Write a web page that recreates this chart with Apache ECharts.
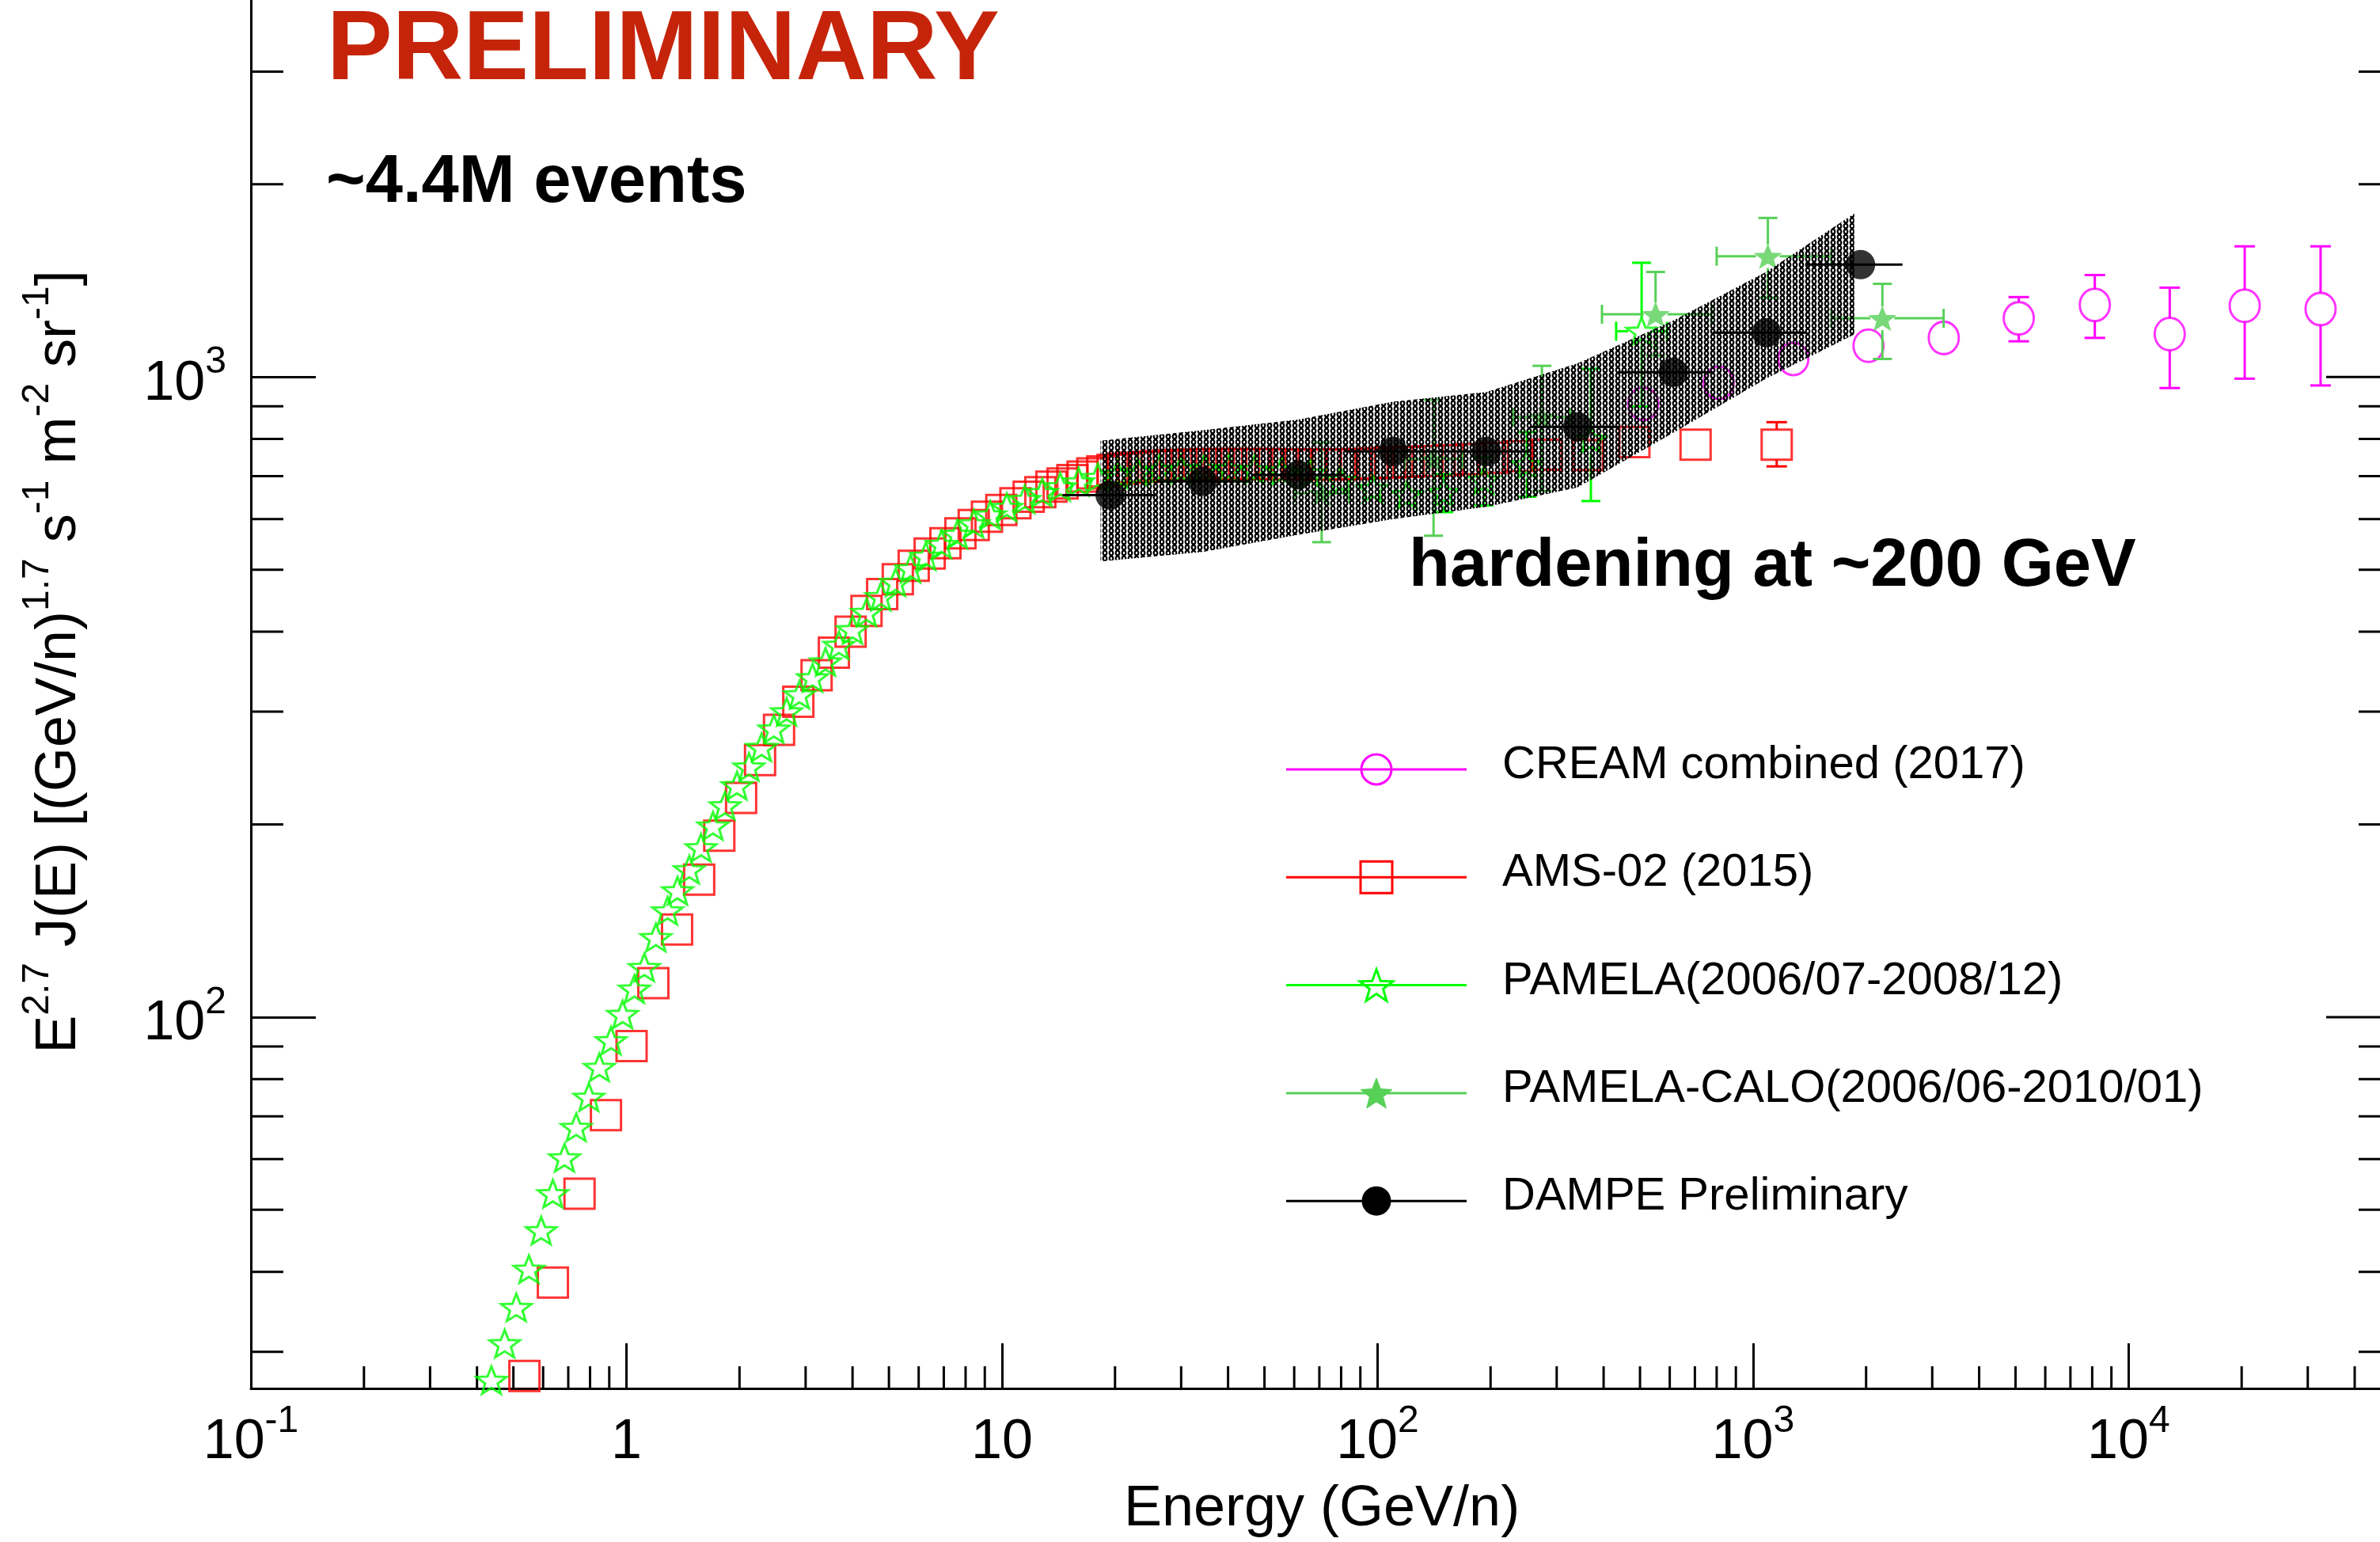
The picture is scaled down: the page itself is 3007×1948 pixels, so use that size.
<!DOCTYPE html>
<html>
<head>
<meta charset="utf-8">
<script src="https://cdn.jsdelivr.net/npm/echarts@6/dist/echarts.min.js"></script>
<style>
html,body{margin:0;padding:0;background:#fff;overflow:hidden}
/* the plot frame extends a little past the top and right edges of the page */
#chart{position:absolute;left:0;top:-89px;width:3024px;height:2037px}
</style>
</head>
<body>
<div id="chart"></div>
<script>
// ---- Proton spectrum, E^2.7 J(E) vs kinetic energy per nucleon (GeV/n) ----

// CREAM combined (2017)
const creamE   = [510, 810, 1280, 2030, 3220, 5100, 8130, 12870, 20380, 32450];
const creamV   = [908, 979, 1067, 1119, 1151, 1235, 1296, 1167, 1292, 1277];
const creamUp  = [25, 28, 32, 40, 45, 98, 147, 212, 308, 323];
const creamDn  = [25, 28, 32, 40, 45, 98, 145, 206, 298, 307];

// AMS-02 (2015)
const amsE = [0.535, 0.637, 0.750, 0.882, 1.032, 1.179, 1.364, 1.562, 1.767, 2.020,
  2.269, 2.549, 2.869, 3.209, 3.568, 3.953, 4.358, 4.797, 5.28, 5.82,
  6.42, 7.07, 7.75, 8.41, 9.12, 9.96, 10.86, 11.78, 12.65, 13.54,
  14.5, 15.4, 16.4, 17.4, 18.5, 19.7, 21.0, 22.4, 24.0, 25.8,
  27.8, 30.0, 32.4, 35.0, 37.8, 40.8, 44.1, 47.8, 51.8, 56.3,
  61.2, 66.7, 72.8, 79.6, 87.5, 97, 108, 121, 136, 154,
  176, 203, 237, 282, 363, 483, 703, 1156];
const amsV = [27.5, 38.5, 53.0, 70.3, 90.1, 113, 137, 164, 192, 220,
  252, 281, 311, 342, 371, 400, 431, 458, 483, 507,
  530, 550, 570, 587, 605, 620, 635, 650, 661, 674,
  682, 690, 699, 707, 712, 716, 719, 722, 724, 726,
  728, 729, 730, 731, 731, 731, 731, 731, 731, 730,
  730, 730, 730, 730, 731, 733, 735, 737, 739, 741,
  744, 748, 752, 756, 755, 791, 784, 784];
const amsErrUp = { 1156: 66 };
const amsErrDn = { 1156: 59 };

// PAMELA (2006/07-2008/12)
const pamelaE = [0.437, 0.474, 0.509, 0.550, 0.593, 0.637, 0.684, 0.735, 0.794, 0.847,
  0.910, 0.977, 1.050, 1.116, 1.198, 1.287, 1.368, 1.47, 1.58, 1.70,
  1.83, 1.97, 2.12, 2.29, 2.47, 2.67, 2.89, 3.13, 3.39, 3.68,
  4.00, 4.36, 4.76, 5.21, 5.71, 6.27, 6.90, 7.61, 8.41, 9.31,
  10.3, 11.5, 12.8, 14.3, 16.0, 18.0, 20.3, 23.0, 26.2, 30.0,
  34.6, 40.2, 47.0, 55.5, 66.0, 79.5, 97, 120, 150, 192,
  250, 370, 505];
const pamelaV = [27.1, 30.9, 35.2, 40.4, 46.4, 53.0, 60.3, 67.3, 75.0, 83.5,
  91.9, 101, 110.7, 119.6, 133.2, 146.6, 157.6, 170, 184, 199,
  214, 230, 246, 264, 282, 300, 319, 339, 359, 381,
  403, 429, 454, 478, 502, 525, 548, 568, 590, 609,
  626, 644, 660, 674, 686, 697, 705, 711, 716, 718,
  720, 718, 716, 713, 708, 690, 670, 655, 660, 690,
  730, 800, 1179];
const pamelaErrUp = [0,0,0,0,0,0,0,0,0,0, 0,0,0,0,0,0,0,0,0,0,
  0,0,0,0,0,0,0,0,0,0, 0,0,0,0,0,0,0,0,0,0,
  0,0,0,0,0,0,0,0,0,0, 0,0,0,0,0,0,0,30,45,60,
  90, 230, 329];
const pamelaErrDn = [0,0,0,0,0,0,0,0,0,0, 0,0,0,0,0,0,0,0,0,0,
  0,0,0,0,0,0,0,0,0,0, 0,0,0,0,0,0,0,0,0,0,
  0,0,0,0,0,0,0,0,0,0, 0,0,0,0,0,0,0,30,45,60,
  80, 160, 280];
const pamelaXlo = { 505: 432 };
const pamelaXhi = { 505: 590 };

// PAMELA-CALO (2006/06-2010/01)
const caloE   = [71, 141, 274, 550, 1095, 2210];
const caloV   = [658, 744, 865, 1253, 1544, 1235];
const caloLo  = [552, 565, 664, 1080, 1330, 1067];
const caloHi  = [790, 921, 1041, 1459, 1772, 1398];
const caloXlo = [60, 118, 230, 396, 800, 1616];
const caloXhi = [84, 168, 326, 775, 1616, 3217];

// DAMPE Preliminary: points, bin edges, systematic band
const dampeE   = [19.4, 34.2, 61.6, 110, 195, 341, 613, 1086, 1933];
const dampeV   = [654, 687, 703, 765, 765, 836, 1017, 1173, 1498];
const dampeXlo = [14.5, 25.8, 46.0, 82, 146, 255, 440, 780, 1390];
const dampeXhi = [25.9, 46.0, 82, 146, 255, 440, 780, 1390, 2500];
const bandE    = [18.3, 34.2, 61.6, 110, 195, 341, 613, 1086, 1860];
const bandHi   = [795, 826, 858, 915, 947, 1050, 1225, 1460, 1800];
const bandLo   = [515, 533, 567, 600, 627, 672, 818, 995, 1165];

// Axes
const X_MIN = 0.1, X_MAX = 5e4, Y_MIN = 26.3, Y_MAX = 5000;
const xMinorTicks = [0.2,0.3,0.4,0.5,0.6,0.7,0.8,0.9, 2,3,4,5,6,7,8,9, 20,30,40,50,60,70,80,90,
  200,300,400,500,600,700,800,900, 2000,3000,4000,5000,6000,7000,8000,9000, 20000,30000,40000];
const yMinorTicks = [30,40,50,60,70,80,90, 200,300,400,500,600,700,800,900, 2000,3000,4000];
const yMajorTicks = [100, 1000];

// ---- colours / fonts ----
const MAGENTA = '#ff00ff', RED = '#ff0000', GREEN = '#00ff00', CALO = '#57d057', BLACK = '#000000';
const FONT = '"Liberation Sans", Arial, Helvetica, sans-serif';
const LW = 3;
const OY = 89;   // chart canvas starts 89px above the page top

// five-pointed star outline (ROOT-style star marker)
function starPoints(cx, cy, R, r) {
  const pts = [];
  for (let k = 0; k < 10; k++) {
    const a = -Math.PI / 2 + k * Math.PI / 5;
    const rad = (k % 2) ? r : R;
    pts.push([cx + rad * Math.cos(a), cy + rad * Math.sin(a)]);
  }
  return pts;
}
const starPath = 'path://M' + starPoints(50, 50, 50, 21).map(p => p[0].toFixed(2) + ' ' + p[1].toFixed(2)).join(' L') + ' Z';

// hatch pattern for the systematic band
function hatchPattern() {
  const c = document.createElement('canvas');
  c.width = 8; c.height = 7;
  const g = c.getContext('2d');
  g.strokeStyle = '#000';
  g.lineWidth = 2.2;
  g.beginPath();
  g.ellipse(4, 3.5, 2.3, 2.8, 0, 0, Math.PI * 2);
  g.stroke();
  return c;
}

// error-bar renderer: [x, y, xlo, xhi, ylo, yhi]
function errRender(o) {
  return function (params, api) {
    const x = api.value(0), y = api.value(1);
    const c = api.coord([x, y]);
    const pu = api.coord([x, api.value(5)])[1];
    const pd = api.coord([x, api.value(4)])[1];
    const pl = api.coord([api.value(2), y])[0];
    const pr = api.coord([api.value(3), y])[0];
    const st = { stroke: o.color, lineWidth: o.width || LW };
    const kids = [];
    const seg = (x1, y1, x2, y2) => kids.push({ type: 'line', shape: { x1, y1, x2, y2 }, style: st });
    const gap = o.gap, cap = o.cap;
    if (c[1] - pu > gap + 1) { seg(c[0], c[1] - gap, c[0], pu); if (cap) seg(c[0] - cap, pu, c[0] + cap, pu); }
    if (pd - c[1] > gap + 1) { seg(c[0], c[1] + gap, c[0], pd); if (cap) seg(c[0] - cap, pd, c[0] + cap, pd); }
    if (c[0] - pl > gap + 1) { seg(pl, c[1], c[0] - gap, c[1]); if (cap) seg(pl, c[1] - cap, pl, c[1] + cap); }
    if (pr - c[0] > gap + 1) { seg(c[0] + gap, c[1], pr, c[1]); if (cap) seg(pr, c[1] - cap, pr, c[1] + cap); }
    return { type: 'group', children: kids };
  };
}

// ---- build series data ----
const creamErr = creamE.map((e, i) => [e, creamV[i], e, e, creamV[i] - creamDn[i], creamV[i] + creamUp[i]]);
const amsErr = amsE.map((e, i) => [e, amsV[i], e, e, amsV[i] - (amsErrDn[e] || 0), amsV[i] + (amsErrUp[e] || 0)]);
const pamErr = pamelaE.map((e, i) => [e, pamelaV[i], pamelaXlo[e] || e, pamelaXhi[e] || e, pamelaV[i] - pamelaErrDn[i], pamelaV[i] + pamelaErrUp[i]]);
const caloErr = caloE.map((e, i) => [e, caloV[i], caloXlo[i], caloXhi[i], caloLo[i], caloHi[i]]);
const dampeErr = dampeE.map((e, i) => [e, dampeV[i], dampeXlo[i], dampeXhi[i], dampeV[i], dampeV[i]]);
const zip = (a, b) => a.map((v, i) => [v, b[i]]);

// power-of-ten tick labels
function powLabel(v) {
  const e = Math.round(Math.log10(v));
  if (Math.abs(v / Math.pow(10, e) - 1) > 1e-6) return '';
  if (e === 0) return '{b|1}';
  if (e === 1) return '{b|10}';
  return '{b|10}{s|' + e + '}';
}
const labelRich = {
  b: { fontSize: 70, lineHeight: 102, fontFamily: FONT, color: '#000' },
  s: { fontSize: 48, lineHeight: 48, fontFamily: FONT, color: '#000', verticalAlign: 'top' }
};

const ticksData = []
  .concat(xMinorTicks.map(v => [v, Y_MIN, 0]))
  .concat(yMinorTicks.map(v => [X_MIN, v, 1]))
  .concat(yMinorTicks.map(v => [X_MAX, v, 2]))
  .concat(yMajorTicks.map(v => [X_MAX, v, 3]));

function tickRender(params, api) {
  const c = api.coord([api.value(0), api.value(1)]);
  const k = api.value(2);
  let x2 = c[0], y2 = c[1];
  if (k === 0) y2 = c[1] - 28;
  else if (k === 1) x2 = c[0] + 41;
  else if (k === 2) x2 = c[0] - 41;
  else x2 = c[0] - 82;
  return { type: 'line', shape: { x1: c[0], y1: c[1], x2, y2 }, style: { stroke: '#000', lineWidth: LW } };
}

const pattern = hatchPattern();
function bandRender(params, api) {
  if (params.dataIndex !== 0) return null;
  const pts = [];
  for (let i = 0; i < bandE.length; i++) pts.push(api.coord([bandE[i], bandHi[i]]));
  for (let i = bandE.length - 1; i >= 0; i--) pts.push(api.coord([bandE[i], bandLo[i]]));
  return { type: 'polygon', shape: { points: pts }, style: { fill: { image: pattern, repeat: 'repeat' }, stroke: null } };
}

// ---- legend (drawn as graphic elements) ----
const legendRows = [
  { text: 'CREAM combined (2017)', color: MAGENTA, mk: 'circle' },
  { text: 'AMS-02 (2015)', color: RED, mk: 'square' },
  { text: 'PAMELA(2006/07-2008/12)', color: GREEN, mk: 'openStar' },
  { text: 'PAMELA-CALO(2006/06-2010/01)', color: CALO, mk: 'star' },
  { text: 'DAMPE Preliminary', color: BLACK, mk: 'dot' }
];
const LEG_Y0 = 972 + OY, LEG_DY = 136.3, LEG_X1 = 1625, LEG_X2 = 1853, LEG_MX = 1739, LEG_TX = 1898;
const legendGraphics = [];
legendRows.forEach((r, i) => {
  const y = LEG_Y0 + i * LEG_DY;
  legendGraphics.push({ type: 'line', shape: { x1: LEG_X1, y1: y, x2: LEG_X2, y2: y }, style: { stroke: r.color, lineWidth: LW }, z: 10 });
  if (r.mk === 'circle') legendGraphics.push({ type: 'circle', shape: { cx: LEG_MX, cy: y, r: 19 }, style: { fill: null, stroke: r.color, lineWidth: LW }, z: 11 });
  if (r.mk === 'square') legendGraphics.push({ type: 'rect', shape: { x: LEG_MX - 20, y: y - 20, width: 40, height: 40 }, style: { fill: null, stroke: r.color, lineWidth: LW }, z: 11 });
  if (r.mk === 'openStar') legendGraphics.push({ type: 'polygon', shape: { points: starPoints(LEG_MX, y + 2, 22, 9) }, style: { fill: null, stroke: r.color, lineWidth: LW }, z: 11 });
  if (r.mk === 'star') legendGraphics.push({ type: 'polygon', shape: { points: starPoints(LEG_MX, y + 2, 21, 9) }, style: { fill: r.color, stroke: r.color, lineWidth: 1 }, z: 11 });
  if (r.mk === 'dot') legendGraphics.push({ type: 'circle', shape: { cx: LEG_MX, cy: y, r: 18.5 }, style: { fill: r.color }, z: 11 });
  legendGraphics.push({ type: 'text', x: LEG_TX, y: y - 5, style: { text: r.text, fontSize: 58, fontFamily: FONT, fill: '#000', align: 'left', verticalAlign: 'middle' }, z: 11 });
});

const textGraphics = [
  { type: 'text', x: 413, y: 66 + OY, style: { text: 'PRELIMINARY', fontSize: 124, fontWeight: 'bold', fontFamily: FONT, fill: '#c5240b', align: 'left', verticalAlign: 'middle' }, z: 20 },
  { type: 'text', x: 412, y: 232 + OY, style: { text: '~4.4M events', fontSize: 85, fontWeight: 'bold', fontFamily: FONT, fill: '#000', align: 'left', verticalAlign: 'middle' }, z: 20 },
  { type: 'text', x: 1780, y: 717 + OY, style: { text: 'hardening at ~200 GeV', fontSize: 85, fontWeight: 'bold', fontFamily: FONT, fill: '#000', align: 'left', verticalAlign: 'middle' }, z: 20 },
  { type: 'text', x: 1670, y: 1907 + OY, style: { text: 'Energy (GeV/n)', fontSize: 72, fontFamily: FONT, fill: '#000', align: 'center', verticalAlign: 'middle' }, z: 20 },
  { type: 'text', x: 75, y: 836 + OY, rotation: Math.PI / 2,
    style: {
      text: '{m|E}{s|2.7}{m| J(E) [(GeV/n)}{s|1.7}{m| s}{s|-1}{m| m}{s|-2}{m| sr}{s|-1}{m|]}',
      align: 'center', verticalAlign: 'middle',
      rich: {
        m: { fontSize: 72, lineHeight: 102, fontFamily: FONT, fill: '#000', color: '#000' },
        s: { fontSize: 48, lineHeight: 48, fontFamily: FONT, fill: '#000', color: '#000', verticalAlign: 'top' }
      }
    }, z: 20 }
];

const option = {
  animation: false,
  backgroundColor: '#ffffff',
  grid: { left: 317, right: 0, top: 0, bottom: 194 },
  xAxis: {
    type: 'log', logBase: 10, min: X_MIN, max: X_MAX,
    axisLine: { lineStyle: { color: '#000', width: LW } },
    axisTick: { inside: true, length: 57, lineStyle: { color: '#000', width: LW } },
    axisLabel: { formatter: powLabel, margin: 18, rich: labelRich, showMinLabel: true, showMaxLabel: true },
    splitLine: { show: false }
  },
  yAxis: {
    type: 'log', logBase: 10, min: Y_MIN, max: Y_MAX,
    axisLine: { lineStyle: { color: '#000', width: LW } },
    axisTick: { inside: true, length: 82, lineStyle: { color: '#000', width: LW } },
    axisLabel: { formatter: powLabel, margin: 31, rich: labelRich, padding: [18, 0, 0, 0] },
    splitLine: { show: false }
  },
  graphic: legendGraphics.concat(textGraphics),
  series: [
    { type: 'custom', name: 'ticks', renderItem: tickRender, data: ticksData, clip: false, silent: true, z: 1 },
    // CREAM
    { type: 'custom', name: 'CREAM err', renderItem: errRender({ color: MAGENTA, gap: 20, cap: 13 }), data: creamErr, z: 2 },
    { type: 'scatter', name: 'CREAM combined (2017)', data: zip(creamE, creamV), symbol: 'circle', symbolSize: [38, 41],
      itemStyle: { color: 'rgba(255,255,255,0)', borderColor: MAGENTA, borderWidth: LW }, z: 3 },
    // AMS-02
    { type: 'custom', name: 'AMS err', renderItem: errRender({ color: RED, gap: 19, cap: 13 }), data: amsErr, z: 2 },
    { type: 'scatter', name: 'AMS-02 (2015)', data: zip(amsE, amsV), symbol: 'rect', symbolSize: 38,
      itemStyle: { color: 'rgba(255,255,255,0)', borderColor: RED, borderWidth: LW }, z: 3 },
    // PAMELA
    { type: 'custom', name: 'PAMELA err', renderItem: errRender({ color: GREEN, gap: 17, cap: 12 }), data: pamErr, z: 4 },
    { type: 'scatter', name: 'PAMELA(2006/07-2008/12)', data: zip(pamelaE, pamelaV), symbol: starPath, symbolSize: [38, 36], symbolKeepAspect: true,
      itemStyle: { color: 'rgba(255,255,255,0)', borderColor: GREEN, borderWidth: LW }, z: 4 },
    // PAMELA-CALO
    { type: 'custom', name: 'CALO err', renderItem: errRender({ color: CALO, gap: 15, cap: 12 }), data: caloErr, z: 5 },
    { type: 'scatter', name: 'PAMELA-CALO(2006/06-2010/01)', data: zip(caloE, caloV), symbol: starPath, symbolSize: [36, 34], symbolKeepAspect: true,
      itemStyle: { color: CALO }, z: 5 },
    // DAMPE band + points
    { type: 'custom', name: 'DAMPE band', renderItem: bandRender, data: zip(bandE, bandHi), z: 6, silent: true },
    { type: 'custom', name: 'DAMPE err', renderItem: errRender({ color: BLACK, gap: 0, cap: 0 }), data: dampeErr, z: 7 },
    { type: 'scatter', name: 'DAMPE Preliminary', data: zip(dampeE, dampeV), symbol: 'circle', symbolSize: 37,
      itemStyle: { color: BLACK }, z: 8 }
  ]
};

const chart = echarts.init(document.getElementById('chart'), null, { renderer: 'canvas', width: 3024, height: 2037 });
chart.setOption(option);
</script>
</body>
</html>
